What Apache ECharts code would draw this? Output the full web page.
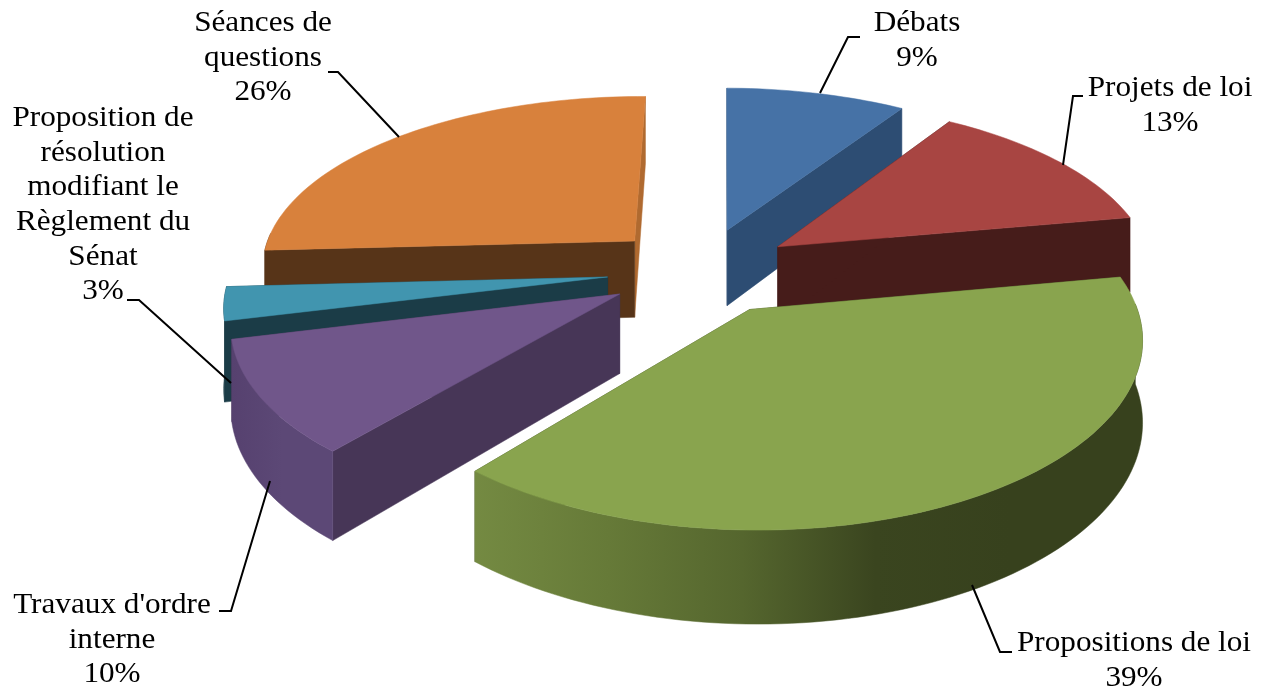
<!DOCTYPE html>
<html>
<head>
<meta charset="utf-8">
<script src="https://cdn.jsdelivr.net/npm/echarts@6/dist/echarts.min.js"></script>
<style>
  html, body { margin: 0; padding: 0; background: #fff; }
  #chart { width: 1266px; height: 691px; }
</style>
</head>
<body>
<div id="chart"></div>
<script>
var categories = ['Débats', 'Projets de loi', 'Propositions de loi', "Travaux d'ordre interne", 'Proposition de résolution modifiant le Règlement du Sénat', 'Séances de questions'];
var values = [9, 13, 39, 10, 3, 26];
var labelLines = [
  ['Débats'],
  ['Projets de loi'],
  ['Propositions de loi'],
  ["Travaux d'ordre", 'interne'],
  ['Proposition de', 'résolution', 'modifiant le', 'Règlement du', 'Sénat'],
  ['Séances de', 'questions']
];

var topColors = ['#4672a6', '#a84542', '#89a44e', '#70568a', '#4195af', '#d8813c'];
var faceColors = ['#2d4d73', '#461c1a', '#3a451f', '#473657', '#1b3c47', '#573418'];
var endFaceColors = ['#2d4d73', '#461c1a', '#3a451f', '#473657', '#1b3c47', '#b06a30'];
var wallColors = [
  ['#2d4d73', '#2d4d73'],
  ['#461c1a', '#461c1a'],
  ['#748a42', '#667a38', '#55662e', '#3a451f', '#37411d', '#37411d'],
  ['#56416f', '#5c4876', '#5c4876'],
  ['#1b3c47', '#1b3c47'],
  ['#573418', '#573418']
];
// paint order, far slices first
var paintOrder = [0, 5, 1, 4, 3, 2];

// fake 3d pie camera
var cx = 701, cy = 270.5, R = 376, tiltR = 174.5, persX = 0.14, persY = 0.15, depth = 78, explode = 0.25;
var startAngle = 0.5 * Math.PI / 180;

function project(px, py, z) {
  var sx = 1 / (1 + persX * py), sy = 1 / (1 + persY * py);
  return [cx + R * px * sx, cy - tiltR * py * sy + z * depth * sx];
}

var total = values.reduce(function (a, b) { return a + b; }, 0);

function renderSlice(params, api) {
  var i = params.dataIndex;
  var before = 0;
  for (var j = 0; j < i; j++) before += values[j];
  var a0 = startAngle + before / total * Math.PI * 2;
  var a1 = startAngle + (before + api.value(0)) / total * Math.PI * 2;
  var mid = (a0 + a1) / 2;
  var ex = explode * Math.sin(mid), ey = explode * Math.cos(mid);
  var steps = Math.max(6, Math.round((a1 - a0) * 40));
  var arcTop = [], wallTop = [], wallBot = [], arcBot = [];
  for (var n = 0; n <= steps; n++) {
    var a = a0 + (a1 - a0) * n / steps;
    var pTop = project(ex + Math.sin(a), ey + Math.cos(a), 0);
    var pBot = project(ex + Math.sin(a), ey + Math.cos(a), 1);
    arcTop.push(pTop);
    arcBot.push(pBot);
    // only the near side of the rim can be seen
    if (Math.cos(a) < 0.05) {
      wallTop.push(pTop);
      wallBot.push(pBot);
    }
  }
  var apexTop = project(ex, ey, 0), apexBot = project(ex, ey, 1);
  var z = paintOrder.indexOf(i) * 4;
  var stops = wallColors[i].map(function (c, k, arr) {
    return { offset: k / (arr.length - 1), color: c };
  });
  function poly(points, fill, zz) {
    return {
      type: 'polygon', z2: z + zz, silent: true,
      shape: { points: points },
      style: { fill: fill, stroke: fill, lineWidth: 0.5 }
    };
  }
  var children = [
    poly([apexTop, arcTop[steps], arcBot[steps], apexBot], endFaceColors[i], 0),
    poly([apexTop, arcTop[0], arcBot[0], apexBot], faceColors[i], 0)
  ];
  if (wallTop.length > 1) {
    children.push(poly(wallTop.concat(wallBot.slice().reverse()), new echarts.graphic.LinearGradient(0, 0, 1, 0, stops), 1));
  }
  children.push(poly([apexTop].concat(arcTop), topColors[i], 2));
  return { type: 'group', children: children };
}

// label centre x, first line y, and leader line for each category
var labelSpots = [
  { x: 917, y: 23, line: [[860, 37], [848, 37], [820, 93]] },
  { x: 1170, y: 88, line: [[1083, 96], [1073, 96], [1063, 165]] },
  { x: 1134, y: 643, line: [[1012, 652], [1000, 652], [972, 585]] },
  { x: 112, y: 605, line: [[219, 611], [231, 611], [270, 481]] },
  { x: 103, y: 118, line: [[127, 300], [139, 300], [231, 383]] },
  { x: 263, y: 23, line: [[328, 72], [338, 72], [399, 137]] }
];
var lineGap = 34.7;

var graphics = [];
categories.forEach(function (name, i) {
  var spot = labelSpots[i];
  var rows = labelLines[i].concat([values[i] + '%']);
  rows.forEach(function (row, r) {
    graphics.push({
      type: 'text', x: spot.x, y: spot.y + r * lineGap, scaleX: 1.04, silent: true,
      style: {
        text: row, fill: '#000', align: 'center', verticalAlign: 'middle',
        font: '30px "Liberation Serif", serif'
      }
    });
  });
  graphics.push({
    type: 'polyline', silent: true, z: 3,
    shape: { points: spot.line },
    style: { stroke: '#000', lineWidth: 2, fill: null }
  });
});

var myChart = echarts.init(document.getElementById('chart'), null, { renderer: 'canvas' });
myChart.setOption({
  animation: false,
  backgroundColor: '#fff',
  graphic: graphics,
  series: [{
    type: 'custom',
    coordinateSystem: 'none',
    silent: true,
    renderItem: renderSlice,
    data: values.map(function (v, i) { return { name: categories[i], value: [v] }; })
  }]
});
</script>
</body>
</html>
